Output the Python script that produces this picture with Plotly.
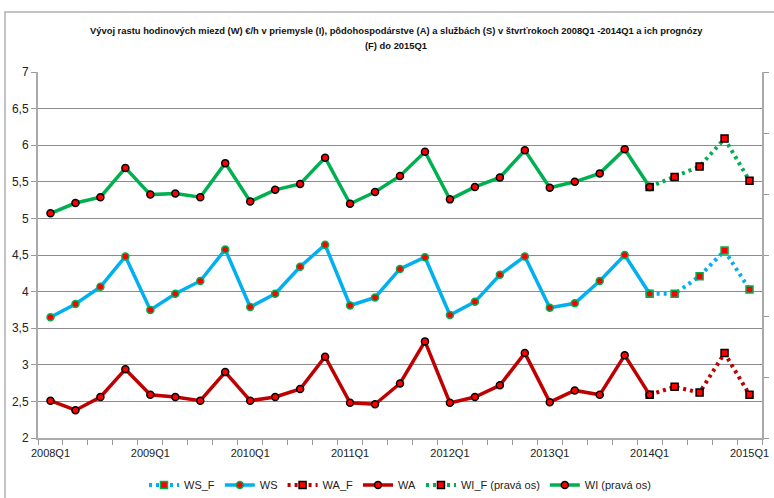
import plotly.graph_objects as go

quarters = [f"{y}Q{q}" for y in range(2008, 2015) for q in range(1, 5)] + ["2015Q1"]

ws = [3.65, 3.83, 4.065, 4.48, 3.75, 3.97, 4.145, 4.575, 3.79, 3.97,
      4.34, 4.64, 3.81, 3.92, 4.31, 4.47, 3.68, 3.86, 4.23, 4.48,
      3.78, 3.84, 4.145, 4.50, 3.97]
ws_f = [3.97, 3.97, 4.21, 4.56, 4.03]

wa = [2.51, 2.38, 2.56, 2.94, 2.59, 2.56, 2.51, 2.90, 2.51, 2.56,
      2.67, 3.11, 2.48, 2.46, 2.745, 3.32, 2.48, 2.56, 2.72, 3.16,
      2.49, 2.65, 2.59, 3.13, 2.59]
wa_f = [2.59, 2.70, 2.62, 3.16, 2.59]

wi = [5.07, 5.21, 5.29, 5.69, 5.325, 5.34, 5.29, 5.755, 5.23, 5.39,
      5.47, 5.83, 5.20, 5.36, 5.58, 5.91, 5.26, 5.43, 5.56, 5.93,
      5.42, 5.50, 5.615, 5.945, 5.43]
wi_f = [5.43, 5.565, 5.71, 6.09, 5.515]

title_lines = [
    "Vývoj rastu hodinových miezd (W) €/h v priemysle (I), pôdohospodárstve (A) a službách (S) v štvrťrokoch 2008Q1 -2014Q1 a ich prognózy",
    "(F) do 2015Q1",
]

x_hist = quarters[:25]
x_fc = quarters[24:]
tick_text = [q if q.endswith("Q1") else "" for q in quarters]

GREEN = "#00B050"
BLUE = "#00B0F0"
DRED = "#C00000"
RED = "#FF0000"
FONT = "Liberation Sans, Arial, sans-serif"
DOT = "3px,4px"

fig = go.Figure()

fig.add_trace(go.Scatter(x=x_fc, y=ws_f, name="WS_F", mode="lines+markers",
                         line=dict(color=BLUE, width=4, dash=DOT),
                         marker=dict(symbol="square", size=7, color=RED,
                                     line=dict(color=GREEN, width=1.5))))
fig.add_trace(go.Scatter(x=x_hist, y=ws, name="WS", mode="lines+markers",
                         line=dict(color=BLUE, width=3.5),
                         marker=dict(symbol="circle", size=7, color=RED,
                                     line=dict(color=GREEN, width=1.5))))
fig.add_trace(go.Scatter(x=x_fc, y=wa_f, name="WA_F", mode="lines+markers",
                         line=dict(color=DRED, width=4, dash=DOT),
                         marker=dict(symbol="square", size=7, color=RED,
                                     line=dict(color="black", width=1.5))))
fig.add_trace(go.Scatter(x=x_hist, y=wa, name="WA", mode="lines+markers",
                         line=dict(color=DRED, width=3.5),
                         marker=dict(symbol="circle", size=7, color=RED,
                                     line=dict(color="black", width=1.5))))
fig.add_trace(go.Scatter(x=x_fc, y=wi_f, name="WI_F (pravá os)", mode="lines+markers",
                         yaxis="y2",
                         line=dict(color=GREEN, width=4, dash=DOT),
                         marker=dict(symbol="square", size=7, color=RED,
                                     line=dict(color="black", width=1.5))))
fig.add_trace(go.Scatter(x=x_hist, y=wi, name="WI (pravá os)", mode="lines+markers",
                         yaxis="y2",
                         line=dict(color=GREEN, width=3.5),
                         marker=dict(symbol="circle", size=7, color=RED,
                                     line=dict(color="black", width=1.5))))

fig.update_layout(
    width=774, height=498,
    margin=dict(l=38, r=12, t=72, b=60, autoexpand=False),
    paper_bgcolor="white", plot_bgcolor="white",
    separators=", ",
    font=dict(family=FONT, size=12, color="#222"),
    xaxis=dict(type="category", categoryorder="array", categoryarray=quarters,
               tickmode="array", tickvals=quarters, ticktext=tick_text,
               tickson="boundaries", ticks="outside", ticklen=5, tickcolor="#999",
               showgrid=False, showline=True, linecolor="#aaa", linewidth=2,
               tickangle=0, tickfont=dict(size=11), range=[-0.5, 28.5],
               ticklabelstandoff=4),
    yaxis=dict(range=[2, 7], dtick=0.5, tick0=2, showgrid=True, gridcolor="#8c8c8c",
               gridwidth=1, showline=True, linecolor="#aaa", linewidth=2,
               ticks="outside", ticklen=5, tickcolor="#999", zeroline=False,
               tickfont=dict(size=12)),
    yaxis2=dict(range=[2, 7], overlaying="y", side="right",
                tickmode="array", tickvals=[2 + k * 5 / 6 for k in range(7)],
                showticklabels=False, ticks="outside", ticklen=5, tickcolor="#999",
                showgrid=False, showline=True, linecolor="#aaa", linewidth=2,
                zeroline=False),
    legend=dict(orientation="h", xref="container", x=400 / 774, xanchor="center",
                yref="container", y=1 - 485 / 498, yanchor="middle",
                font=dict(size=11), traceorder="normal", bgcolor="rgba(0,0,0,0)"),
    showlegend=True,
)

for i, (line, ypix) in enumerate(zip(title_lines, [30, 45])):
    fig.add_annotation(text=f"<b>{line}</b>", xref="paper", yref="paper",
                       x=(396 - 38) / 724, y=(438 - ypix) / 366,
                       xanchor="center", yanchor="middle", showarrow=False,
                       font=dict(family=FONT, size=9.4, color="#111"))

fig.add_shape(type="rect", xref="paper", yref="paper",
              x0=-33 / 724, x1=1.2, y0=-0.3, y1=1 + 60 / 366,
              line=dict(color="#b0b0b0", width=1.5), fillcolor="rgba(0,0,0,0)",
              layer="below")

fig.write_html("out.html", config={"displayModeBar": False},
               post_script="document.body.style.margin='0px';document.body.style.overflow='hidden';")
